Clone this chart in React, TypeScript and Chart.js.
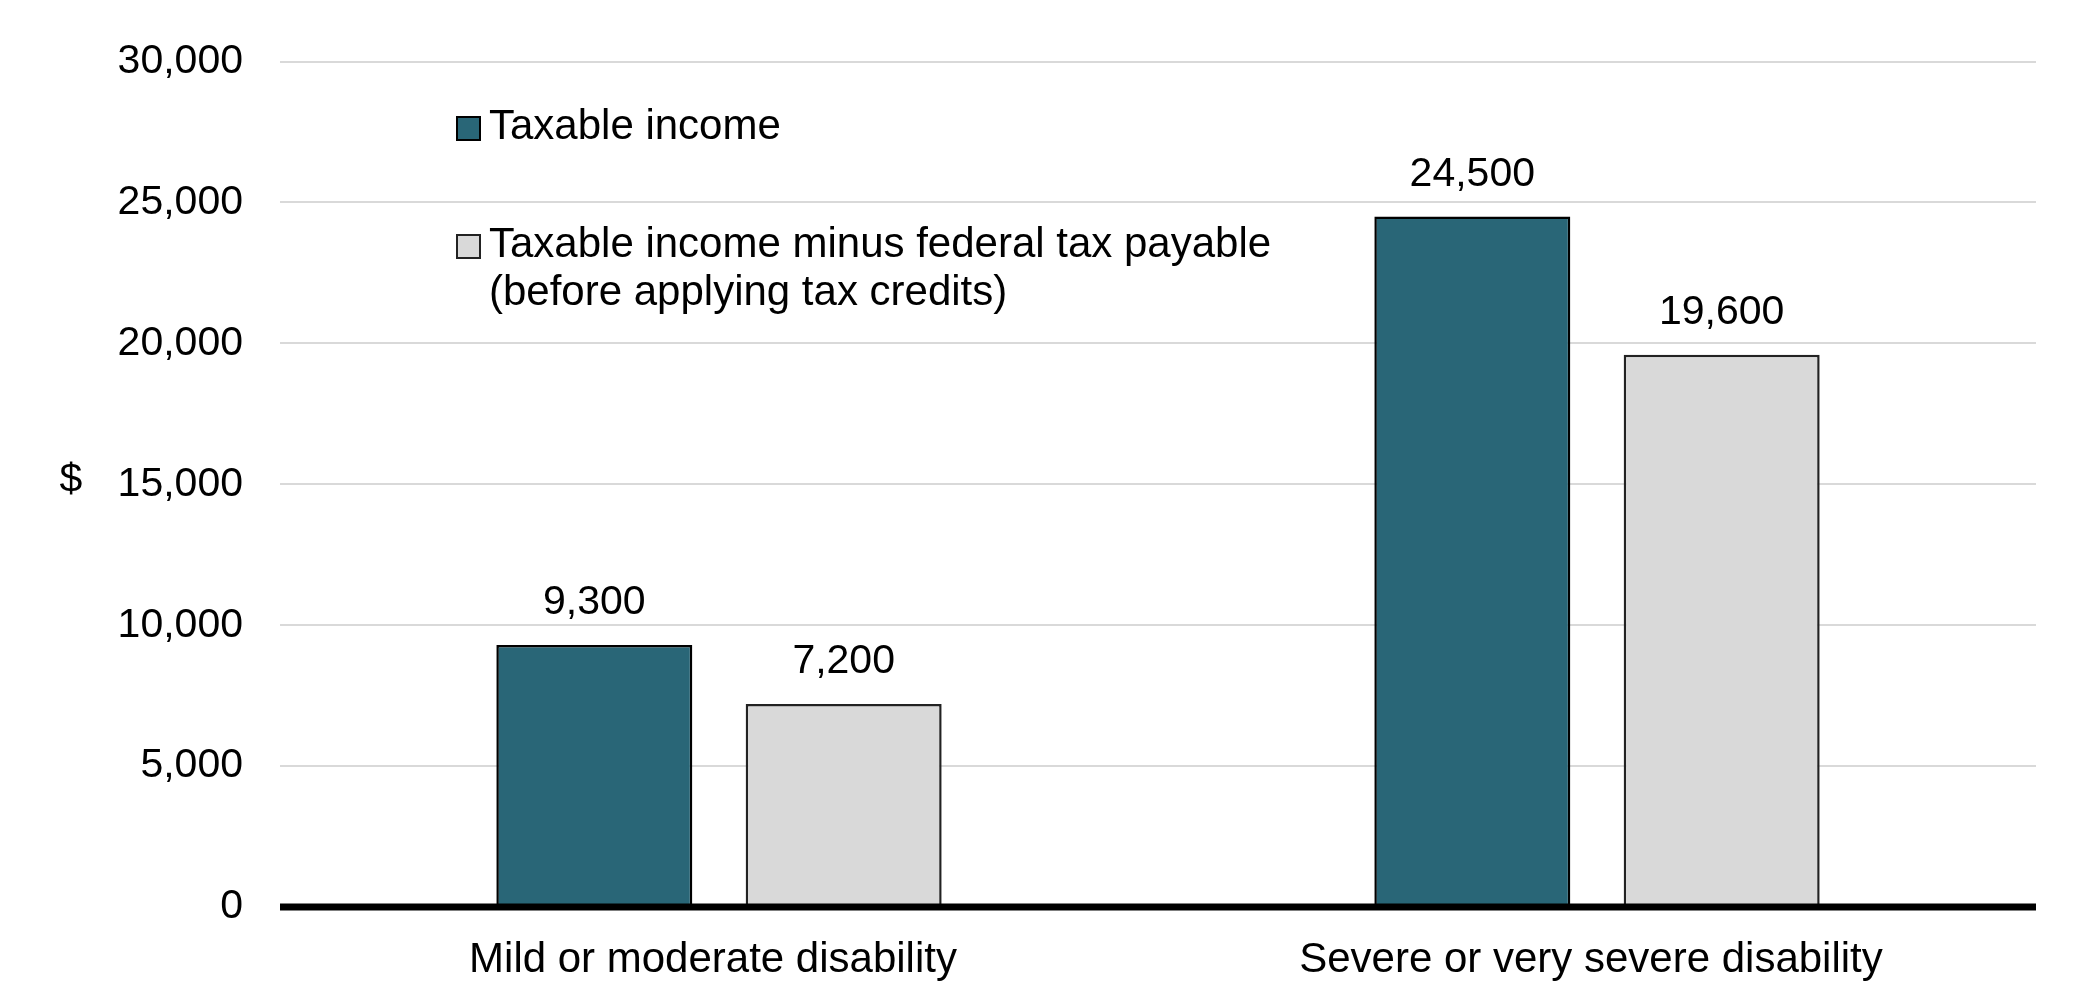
import React, { useEffect, useRef } from "react";
import { Chart, registerables } from "chart.js";

Chart.register(...registerables);

const categories = ["Mild or moderate disability", "Severe or very severe disability"];
const seriesNames = [
  "Taxable income",
  "Taxable income minus federal tax payable\n(before applying tax credits)",
];
const taxableIncome = [9300, 24500];
const incomeMinusTax = [7200, 19600];
const yMin = 0;
const yMax = 30000;
const yStep = 5000;
const yAxisLabel = "$";
const seriesColors = ["#296677", "#d9d9d9"];
const seriesBorders = ["#000000", "#222222"];

const FONT = "'Liberation Sans', Arial, sans-serif";
const FS = 41;
const FS_TEXT = 42;
const fmt = (v: number) => v.toLocaleString("en-US");

const overlayPlugin = {
  id: "overlay",
  afterDatasetsDraw(chart: any) {
    const { ctx, chartArea, scales } = chart;
    const y = scales.y;
    ctx.save();
    // zero axis line on top of bars
    const y0 = y.getPixelForValue(0);
    ctx.strokeStyle = "#000";
    ctx.lineWidth = 7;
    ctx.beginPath();
    ctx.moveTo(chartArea.left, y0);
    ctx.lineTo(chartArea.right, y0);
    ctx.stroke();

    // value labels
    ctx.fillStyle = "#000";
    ctx.font = `${FS}px ${FONT}`;
    ctx.textAlign = "center";
    ctx.textBaseline = "alphabetic";
    chart.data.datasets.forEach((ds: any, di: number) => {
      const meta = chart.getDatasetMeta(di);
      meta.data.forEach((bar: any, i: number) => {
        ctx.fillText(fmt(ds.data[i]), bar.x, bar.y - 31);
      });
    });

    // y axis "$" label
    ctx.textAlign = "center";
    ctx.fillText(yAxisLabel, 71, 492);

    // legend
    ctx.font = `${FS_TEXT}px ${FONT}`;
    const legendX = 457;
    const sq = 23;
    const textX = 489;
    const itemBaselines = [139, 257];
    const lineGap = 48;
    chart.data.datasets.forEach((ds: any, di: number) => {
      const base = itemBaselines[di];
      ctx.fillStyle = ds.backgroundColor;
      ctx.fillRect(legendX, base - 22, sq, sq);
      ctx.strokeStyle = ds.borderColor;
      ctx.lineWidth = 2;
      ctx.strokeRect(legendX, base - 22, sq, sq);
      ctx.fillStyle = "#000";
      ctx.textAlign = "left";
      String(ds.label)
        .split("\n")
        .forEach((line: string, li: number) => {
          ctx.fillText(line, textX, base + li * lineGap);
        });
    });
    ctx.restore();
  },
};

export default function App() {
  const ref = useRef<HTMLCanvasElement | null>(null);
  useEffect(() => {
    if (!ref.current) return;
    const chart = new Chart(ref.current, {
      type: "bar",
      data: {
        labels: categories,
        datasets: [
          {
            label: seriesNames[0],
            data: taxableIncome,
            backgroundColor: seriesColors[0],
            borderColor: seriesBorders[0],
            borderWidth: 2.5,
            categoryPercentage: 0.568,
            barPercentage: 0.786,
          },
          {
            label: seriesNames[1],
            data: incomeMinusTax,
            backgroundColor: seriesColors[1],
            borderColor: seriesBorders[1],
            borderWidth: 2.5,
            categoryPercentage: 0.568,
            barPercentage: 0.786,
          },
        ],
      },
      options: {
        responsive: false,
        animation: false,
        layout: { padding: { left: 0, right: 55, top: 57, bottom: 0 } },
        plugins: {
          legend: { display: false },
          tooltip: { enabled: false },
        },
        scales: {
          x: {
            grid: { display: false },
            border: { display: false },
            ticks: {
              color: "#000",
              font: { family: FONT, size: FS_TEXT },
              padding: 20,
              labelOffset: -6,
              maxRotation: 0,
            },
            afterFit: (s: any) => {
              s.height = 97;
            },
          },
          y: {
            min: yMin,
            max: yMax,
            grid: { color: "#d9d9d9", lineWidth: 2, drawTicks: false },
            border: { display: false },
            ticks: {
              stepSize: yStep,
              color: "#000",
              font: { family: FONT, size: FS },
              padding: 37,
              callback: (v: any) => fmt(Number(v)),
            },
            afterFit: (s: any) => {
              s.width = 280;
            },
          },
        },
      },
      plugins: [overlayPlugin],
    });
    return () => chart.destroy();
  }, []);
  return (
    <div style={{ position: "absolute", left: 0, top: 0, width: 2091, height: 1004, background: "#fff" }}>
      <canvas ref={ref} width={2091} height={1004} />
    </div>
  );
}
